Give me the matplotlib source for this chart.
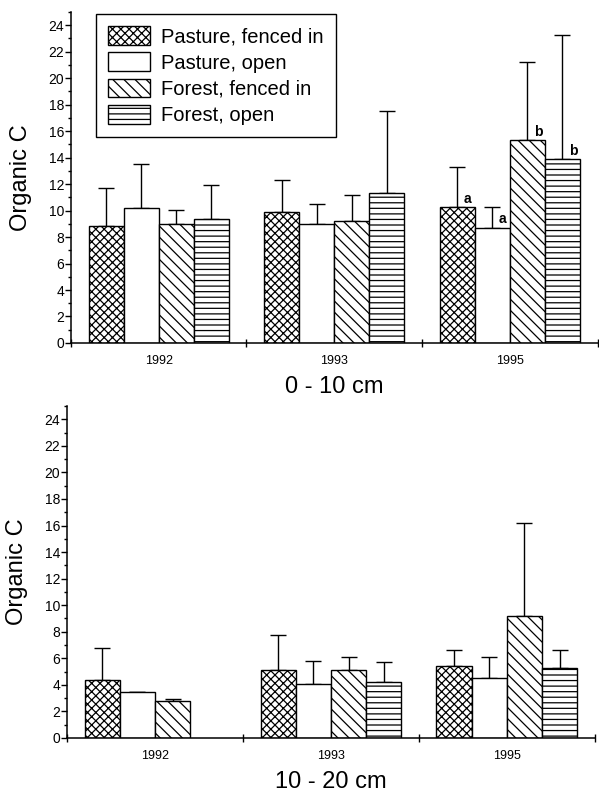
import matplotlib
matplotlib.use('Agg')
import matplotlib.pyplot as plt
from matplotlib.ticker import MultipleLocator
import numpy as np

plt.rcParams['font.family'] = ['Liberation Sans', 'DejaVu Sans']
plt.rcParams['hatch.linewidth'] = 0.9

years = ['1992', '1993', '1995']
treatments = ['Pasture, fenced in', 'Pasture, open', 'Forest, fenced in', 'Forest, open']
hatches = ['xxxx', '', '\\\\\\', '---']

# 0 - 10 cm : means and upper error ends (mean + sd)
top_mean = [[8.8, 9.9, 10.25],
            [10.2, 9.0, 8.7],
            [9.0, 9.2, 15.3],
            [9.4, 11.3, 13.9]]
top_upper = [[11.7, 12.3, 13.3],
             [13.5, 10.5, 10.25],
             [10.05, 11.2, 21.2],
             [11.9, 17.5, 23.3]]
top_letters = [[None, None, 'a'],
               [None, None, 'a'],
               [None, None, 'b'],
               [None, None, 'b']]

# 10 - 20 cm
bot_mean = [[4.4, 5.1, 5.4],
            [3.5, 4.1, 4.5],
            [2.8, 5.1, 9.15],
            [np.nan, 4.2, 5.3]]
bot_upper = [[6.8, 7.75, 6.6],
             [3.5, 5.8, 6.1],
             [2.95, 6.1, 16.2],
             [np.nan, 5.7, 6.6]]

fig = plt.figure(figsize=(5.99, 7.95), dpi=100)
ax1 = fig.add_axes([0.1185, 0.5686, 0.879, 0.4163])
ax2 = fig.add_axes([0.112, 0.0717, 0.881, 0.4176])

width = 0.2
x = np.arange(len(years))


def draw(ax, means, uppers, xlabel, letters=None):
    for i in range(len(treatments)):
        pos = x + (i - 1.5) * width
        m = np.array(means[i], dtype=float)
        u = np.array(uppers[i], dtype=float)
        ax.bar(pos, m, width, color='white', edgecolor='black', hatch=hatches[i],
               linewidth=1.0, label=treatments[i], zorder=2)
        err = u - m
        ax.errorbar(pos, m, yerr=[np.zeros_like(err), err], fmt='none', ecolor='black',
                    elinewidth=1.0, capsize=5.5, capthick=1.0, zorder=1)
        if letters is not None:
            for j, t in enumerate(letters[i]):
                if t:
                    ax.text(pos[j] + 0.3 * width, m[j] + 0.1, t, ha='center', va='bottom',
                            fontsize=10, fontweight='bold')
    ax.set_xlim(-0.5, 2.5)
    ax.set_ylim(0, 25)
    ax.yaxis.set_minor_locator(MultipleLocator(1))
    ax.set_yticks(np.arange(0, 25, 2))
    ax.tick_params(axis='y', which='major', direction='out', length=4, width=1, labelsize=10, pad=1)
    ax.tick_params(axis='y', which='minor', direction='out', length=2.5, width=1)
    ax.set_xticks(x)
    ax.set_xticklabels(years, fontsize=9)
    ax.tick_params(axis='x', which='major', length=0, pad=9)
    ax.set_xticks([-0.5, 0.5, 1.5, 2.5], minor=True)
    ax.tick_params(axis='x', which='minor', direction='inout', length=6, width=1)
    ax.spines['top'].set_visible(False)
    ax.spines['right'].set_visible(False)
    ax.spines['left'].set_linewidth(1.1)
    ax.spines['bottom'].set_linewidth(1.1)
    ax.set_ylabel('Organic C', fontsize=17, labelpad=12)
    ax.set_xlabel(xlabel, fontsize=17, labelpad=6)


draw(ax1, top_mean, top_upper, '0 - 10 cm', top_letters)
draw(ax2, bot_mean, bot_upper, '10 - 20 cm')

ax1.legend(loc='upper left', bbox_to_anchor=(0.047, 0.994), borderaxespad=0,
           frameon=True, fancybox=False, edgecolor='black', fontsize=14.5,
           handlelength=2.1, handleheight=1.05, labelspacing=0.3, borderpad=0.6,
           handletextpad=0.55, framealpha=1)
ax1.get_legend().get_frame().set_linewidth(1.0)

fig.savefig('out.png', dpi=100)
